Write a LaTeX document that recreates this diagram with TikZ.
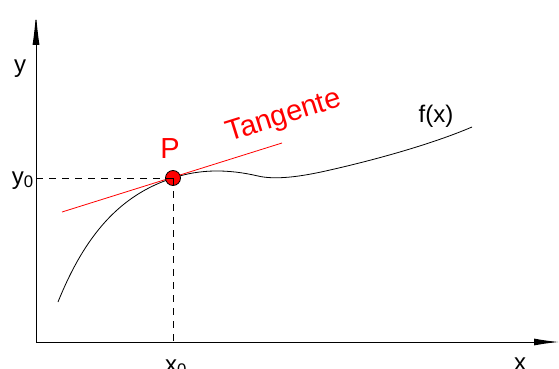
\documentclass[tikz,border=0pt]{standalone}
\usepackage{fontspec}
\setmainfont{Liberation Sans}
\usetikzlibrary{arrows.meta}

\begin{document}
\begin{tikzpicture}[x=1pt, y=-1pt,
    axis/.style={line width=1pt, -{Latex[length=25pt, width=7pt]}},
    guide/.style={line width=0.8pt, dash pattern=on 7pt off 6pt},
    lbl/.style={font=\fontsize{24}{28}\selectfont, inner sep=0pt},
    redlbl/.style={font=\fontsize{29}{33}\selectfont, inner sep=0pt, red}]
    \useasboundingbox (0,0) rectangle (559,369);
    % Axes
    \coordinate (O) at (36,342);
    \coordinate (xend) at (559,342);
    \coordinate (yend) at (36,13);
    \draw[axis] (O) -- (xend);
    \draw[axis, -{Latex[length=32pt, width=7pt]}] (O) -- (yend);
    \node[lbl, anchor=base] (ylab) at (20,73) {y};
    \node[lbl, anchor=base] (xlab) at (520,370) {x};
    % Curve f(x)
    \draw[line width=0.8pt] (58,302) .. controls (85,235) and (120,195) .. (173,178)
        .. controls (200,169) and (228,169) .. (258,176)
        .. controls (275,180) and (300,177) .. (330,170)
        .. controls (370,161) and (430,145) .. (472,127);
    \node[lbl, anchor=base] (flab) at (436,122) {f(x)};
    % Tangent
    \coordinate (t1) at (62,212);
    \coordinate (t2) at (282,143);
    \draw[red, line width=0.8pt] (t1) -- (t2);
    \node[redlbl, rotate=17.4] (tlab) at (284,117) {Tangente};
    % Point P
    \node[circle, draw=black, fill=red, line width=0.8pt, minimum size=15pt, inner sep=0pt] (P) at (173,178) {};
    \draw[guide] (O |- P) -- (P.center);
    \draw[guide] (P.center) -- (P |- O);
    \node[redlbl, anchor=base] (plab) at (170,158) {P};
    \node[lbl, anchor=base east] (y0) at (34,184) {y\textsubscript{0}};
    \node[lbl, anchor=base] (x0) at (176,372) {x\textsubscript{0}};
\end{tikzpicture}
\end{document}
